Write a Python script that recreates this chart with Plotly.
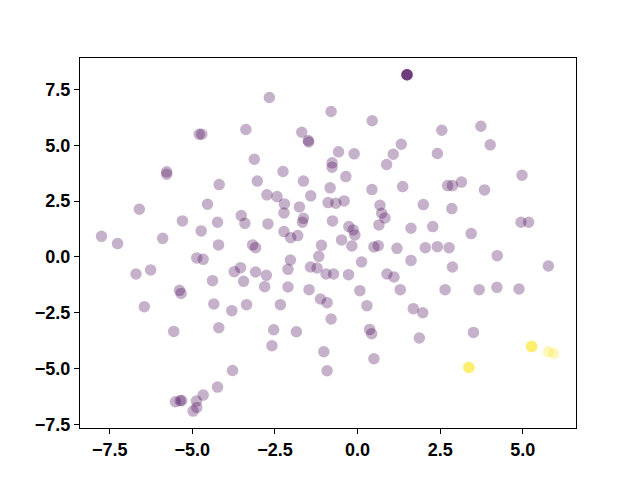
import plotly.graph_objects as go

# Data values
x_vals = [
    -4.794, -4.715, -5.777, -5.777, -3.380, -4.187, 1.496, 1.496, 1.496, 1.496,
    -2.670, -0.801, 0.443, -1.690, -1.493, -1.478, -3.125, -0.576, -0.103, 1.323,
    1.080, 0.880, -0.771, -0.771, -2.257, -0.355, -3.034, -1.638, -0.831, 0.434,
    1.365, 3.732, 2.549, 4.014, 2.415, 4.976, 3.143, 2.725, 2.870, -6.605,
    -4.542, -3.519, -3.410, -5.300, -4.238, -4.733, -7.749, -7.263, -5.898, -4.208,
    -4.867, -4.672, -6.705, -6.262, -3.732, -3.541, -4.390, -3.450, -5.391, -5.340,
    -6.453, -4.351, -3.805, -3.359, -2.743, -2.439, -1.417, -2.215, -1.760, -0.892,
    -0.658, -0.407, 0.677, -2.227, -1.638, -1.669, -2.712, -0.759, 0.728, 0.828,
    0.646, -0.264, -0.133, -0.082, -2.227, -2.024, -1.811, -0.485, -3.177, -3.086,
    -1.092, -0.173, 0.495, 0.625, 1.192, -1.174, -2.033, 0.121, -2.106, -1.426,
    -1.226, -3.086, -2.761, -0.953, -0.728, -0.273, 0.889, 1.101, -2.812, -2.106,
    -1.468, 0.070, 1.292, -1.123, -0.922, -2.336, 0.282, 3.841, 1.990, 2.852,
    4.945, 5.176, 1.617, 2.275, 3.438, 2.051, 2.415, 2.770, 4.226, 1.617,
    2.870, 5.774, 2.649, 3.680, 4.217, 4.885, 1.687, 1.972, -5.564, -4.199,
    -3.783, -4.238, -4.672, -5.513, -5.370, -5.322, -4.876, -4.867, -4.976, -0.801,
    -2.539, -1.851, -2.591, -1.022, 0.364, 0.425, 0.495, -0.922, 1.869, 3.507,
    3.368, 3.368, 3.368, 5.267, 5.267, 5.267, 5.774, 5.934,
]
y_vals = [
    5.503, 5.503, 3.815, 3.707, 5.714, 3.245, 8.169, 8.169, 8.169, 8.169,
    7.150, 6.521, 6.104, 5.592, 5.220, 5.153, 4.381, 4.713, 4.623, 5.054,
    4.605, 4.143, 4.219, 4.021, 3.829, 3.604, 3.402, 3.402, 3.097, 3.021,
    3.155, 5.862, 5.682, 5.027, 4.636, 3.662, 3.357, 3.200, 3.200, 2.136,
    2.361, 1.854, 1.508, 1.616, 1.553, 1.167, 0.925, 0.597, 0.835, 0.539,
    -0.045, -0.108, -0.763, -0.583, -0.660, -0.480, -1.064, -1.095, -1.499, -1.634,
    -2.231, -2.110, -2.410, -2.141, 2.783, 2.706, 2.738, 2.379, 2.244, 2.437,
    2.406, 2.513, 2.316, 1.975, 1.732, 1.553, 1.481, 1.616, 1.957, 1.750,
    1.436, 1.360, 1.212, 0.987, 1.136, 0.866, 0.956, 0.763, 0.539, 0.417,
    0.521, 0.494, 0.449, 0.507, 0.386, 0.027, -0.135, -0.224, -0.557, -0.449,
    -0.494, -0.673, -0.826, -0.763, -0.763, -0.794, -0.763, -0.898, -1.333, -1.346,
    -1.468, -1.513, -1.468, -1.885, -2.051, -2.141, -2.186, 3.007, 2.347, 2.168,
    1.553, 1.553, 1.284, 1.360, 1.046, 0.417, 0.462, 0.417, 0.058, -0.157,
    -0.449, -0.404, -1.468, -1.468, -1.364, -1.436, -2.320, -2.500, -3.339, -3.173,
    -5.090, -5.835, -6.194, -6.495, -6.450, -6.436, -6.463, -6.750, -6.912, -2.783,
    -3.263, -3.353, -3.981, -4.250, -3.250, -3.443, -4.565, -5.103, -3.636, -3.384,
    -4.955, -4.955, -4.955, -4.013, -4.013, -4.013, -4.250, -4.327,
]
labels = [0] * 160 + [1] * 8

x_range = [-8.40, 6.61]
y_range = [-7.67, 8.92]
tick_vals_x = [-7.5, -5.0, -2.5, 0.0, 2.5, 5.0]
tick_vals_y = [-7.5, -5.0, -2.5, 0.0, 2.5, 5.0, 7.5]

fig = go.Figure(
    go.Scatter(
        x=x_vals,
        y=y_vals,
        mode="markers",
        marker=dict(
            color=labels,
            colorscale="Viridis",
            cmin=0,
            cmax=1,
            size=10,
            opacity=0.3,
            line=dict(width=1.5, color=["#440154" if v == 0 else "#fde725" for v in labels]),
        ),
        showlegend=False,
    )
)

axis_common = dict(
    showgrid=False,
    zeroline=False,
    showline=True,
    linecolor="black",
    linewidth=1,
    mirror=True,
    ticks="outside",
    ticklen=5,
    tickwidth=1,
    tickcolor="black",
    tickformat=".1f",
    tickfont=dict(family="Liberation Sans", size=18, color="black", weight="bold"),
)

fig.update_layout(
    width=640,
    height=480,
    margin=dict(l=72, r=72, t=50, b=60),
    paper_bgcolor="white",
    plot_bgcolor="white",
    xaxis=dict(range=x_range, tickvals=tick_vals_x, **axis_common),
    yaxis=dict(range=y_range, tickvals=tick_vals_y, **axis_common),
)

fig.write_html("out.html")
